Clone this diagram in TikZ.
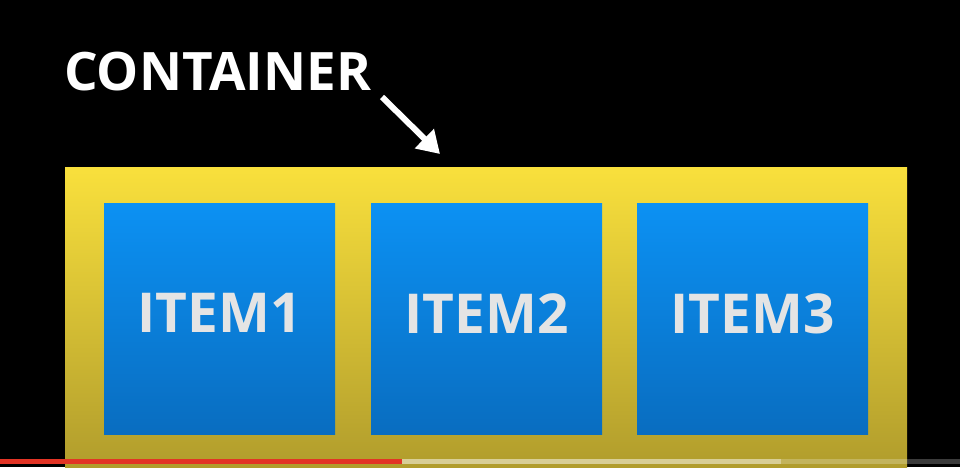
\documentclass[tikz,border=0pt]{standalone}
\usepackage{fontspec}
\setmainfont{Open Sans}
\usetikzlibrary{arrows.meta}
\definecolor{yeltop}{HTML}{F9E03C}
\definecolor{yelbot}{HTML}{B09C2C}
\definecolor{bluetop}{HTML}{0C91F3}
\definecolor{bluebot}{HTML}{096DC0}
\definecolor{itemtxt}{HTML}{E4E4E4}
\definecolor{ytred}{HTML}{E23425}
\tikzset{
  itembox/.style={draw=none, minimum width=231pt, minimum height=231pt, inner sep=0pt,
    top color=bluetop, bottom color=bluebot, text=itemtxt, text depth=11pt,
    font=\fontsize{55}{55}\selectfont\bfseries},
  containerbox/.style={draw=none, minimum width=842pt, minimum height=303pt, inner sep=0pt,
    top color=yeltop, bottom color=yelbot},
  labeltext/.style={text=white, inner sep=0pt, anchor=base west,
    font=\fontsize{53}{53}\selectfont\bfseries},
  pointer/.style={white, line width=6pt, -{Triangle[length=22pt,width=26pt]}},
}
\begin{document}
\begin{tikzpicture}[x=1pt,y=-1pt]
\useasboundingbox (0,0) rectangle (960,467);
\clip (0,0) rectangle (960,467);
\fill[black] (0,0) rectangle (960,467);
% container
\node[containerbox, anchor=north west] (container) at (65,167) {};
% items
\node[itembox, anchor=north west] (item1) at (104,203) {ITEM1};
\node[itembox, anchor=north west] (item2) at (371,203) {ITEM2};
\node[itembox, anchor=north west] (item3) at (637,203) {ITEM3};
% label
\node[labeltext] (label) at (64,90) {CONTAINER};
\coordinate (arrowstart) at (382,97);
\coordinate (arrowend) at (440,154);
\draw[pointer] (arrowstart) -- (arrowend);
% progress bar
\fill[ytred] (0,459) rectangle (402,464);
\fill[white, opacity=0.5] (402,459) rectangle (781,464);
\fill[white, opacity=0.23] (781,459) rectangle (960,464);
\end{tikzpicture}
\end{document}
